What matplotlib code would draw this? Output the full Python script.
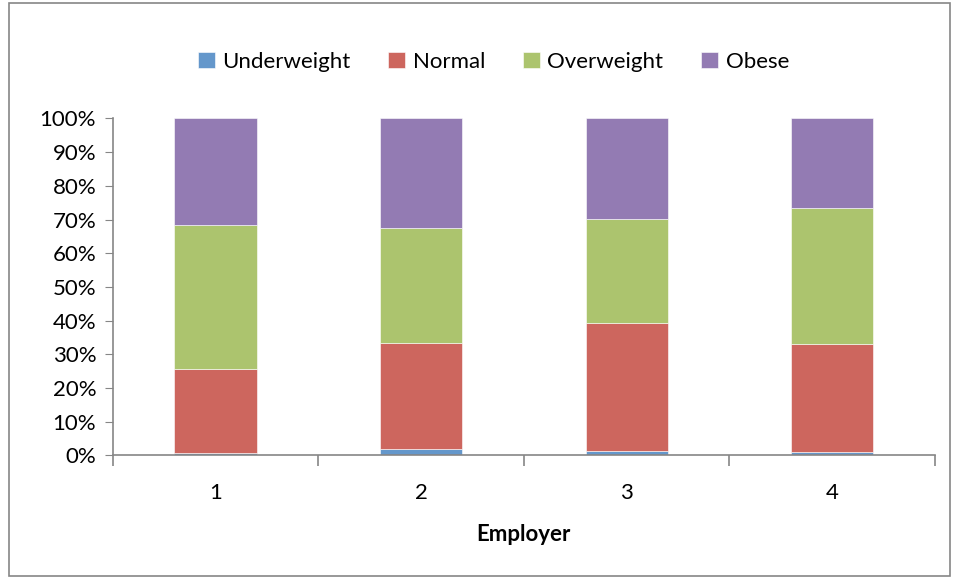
import numpy as np
import matplotlib
matplotlib.use("Agg")
import matplotlib.pyplot as plt
from matplotlib.patches import Rectangle
from matplotlib.ticker import PercentFormatter, FixedLocator

plt.rcParams["font.family"] = ["Lato", "DejaVu Sans"]

employers = ["1", "2", "3", "4"]
underweight = [0.7, 1.9, 1.2, 0.9]
normal = [24.9, 31.5, 38.0, 32.3]
overweight = [42.9, 34.0, 30.9, 40.2]
obese = [31.5, 32.6, 29.9, 26.6]

series = [
    ("Underweight", underweight, "#6497CB"),
    ("Normal", normal, "#CD665E"),
    ("Overweight", overweight, "#ACC46E"),
    ("Obese", obese, "#937BB3"),
]


def main():
    fig = plt.figure(figsize=(9.56, 5.78), dpi=100)
    ax = fig.add_axes([0.118, 0.212, 0.86, 0.583])

    x = np.arange(len(employers))
    bottom = np.zeros(len(employers))
    for name, vals, color in series:
        vals = np.array(vals)
        ax.bar(x, vals, bottom=bottom, width=0.4, color=color, label=name,
               edgecolor="white", linewidth=0.4)
        bottom += vals

    ax.set_xlim(-0.5, len(employers) - 0.5)
    ax.set_ylim(0, 100)
    ax.set_yticks(np.arange(0, 101, 10))
    ax.yaxis.set_major_formatter(PercentFormatter(decimals=0))
    ax.set_xticks(x)
    ax.set_xticklabels(employers)
    ax.xaxis.set_minor_locator(FixedLocator(np.arange(-0.5, len(employers), 1)))

    grey = "#868686"
    for side in ["top", "right"]:
        ax.spines[side].set_visible(False)
    for side in ["left", "bottom"]:
        ax.spines[side].set_color(grey)
        ax.spines[side].set_linewidth(1.2)

    ax.tick_params(axis="y", direction="out", length=6, color=grey,
                   labelsize=16, pad=6)
    ax.tick_params(axis="x", which="major", length=0, labelsize=16, pad=20)
    ax.tick_params(axis="x", which="minor", direction="out", length=8,
                   color=grey, width=1.2)

    ax.set_xlabel("Employer", fontsize=16, fontweight="bold", labelpad=15)

    ax.legend(loc="upper center", bbox_to_anchor=(0.463, 1.258), ncol=4,
              frameon=False, fontsize=16, handlelength=0.75, handleheight=0.75,
              handletextpad=0.35, columnspacing=1.7)

    fig.patches.append(Rectangle((0.009, 0.004), 0.985, 0.99,
                                 transform=fig.transFigure, fill=False,
                                 edgecolor=grey, linewidth=1.2))

    fig.savefig("out.png", dpi=100)
    plt.close(fig)


if __name__ == "__main__":
    main()
